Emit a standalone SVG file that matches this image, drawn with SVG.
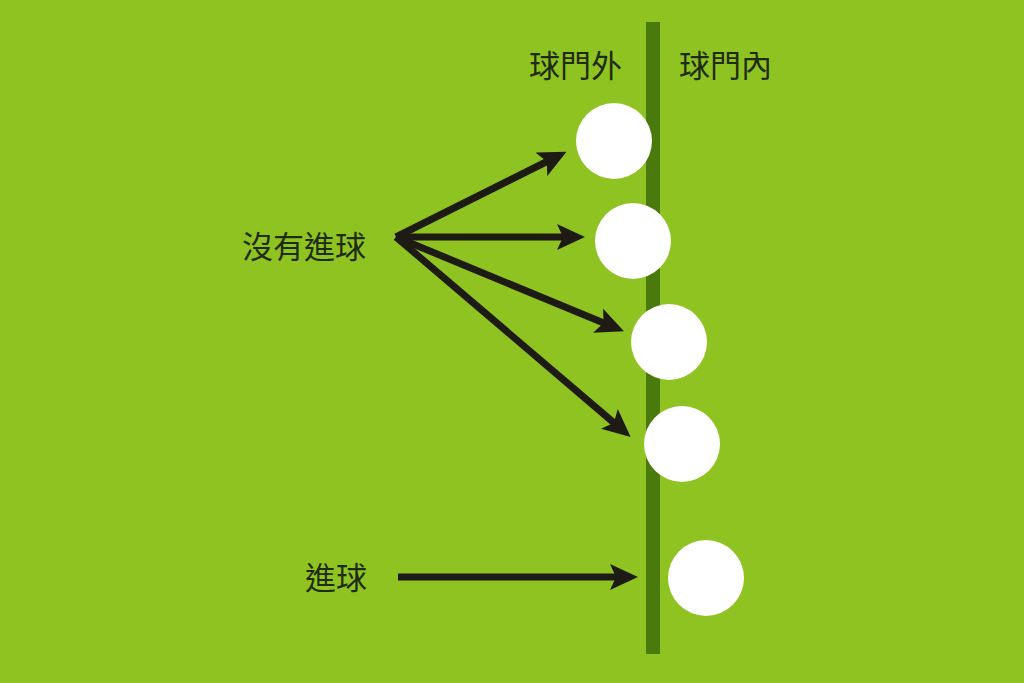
<svg xmlns="http://www.w3.org/2000/svg" width="1024" height="683" viewBox="0 0 1024 683">
<style>
.t{font-family:"Noto Sans CJK TC","Noto Sans CJK SC",sans-serif;font-size:31px;font-weight:400;fill:#1f2b12}
.ball{fill:#ffffff}
.arr{stroke:#1e1a14;stroke-width:7;fill:none;marker-end:url(#ah)}
</style>
<defs>
<marker id="ah" markerUnits="userSpaceOnUse" markerWidth="28" markerHeight="26" refX="14" refY="13" orient="auto" viewBox="0 0 28 26">
<path d="M0,0 L28,13 L0,26 L6,13 Z" fill="#1e1a14"/>
</marker>
</defs>
<rect width="1024" height="683" fill="#8fc322"/>
<rect id="goal-line" x="646" y="22" width="14" height="632" fill="#4a7a0c"/>
<g id="label-outside"><text class="t" x="529" y="77">球門外</text></g>
<g id="label-inside"><text class="t" x="679" y="77">球門內</text></g>
<g id="label-nogoal"><text class="t" x="242" y="258">沒有進球</text></g>
<g id="label-goal"><text class="t" x="305" y="589">進球</text></g>
<g id="ball1"><circle class="ball" cx="614" cy="141" r="38"/></g>
<g id="ball2"><circle class="ball" cx="633" cy="241" r="38"/></g>
<g id="ball3"><circle class="ball" cx="669" cy="342" r="38"/></g>
<g id="ball4"><circle class="ball" cx="682" cy="444" r="38"/></g>
<g id="ball5"><circle class="ball" cx="706" cy="578" r="38"/></g>
<g id="connectors">
<line class="arr" x1="396" y1="237" x2="554" y2="158"/>
<line class="arr" x1="396" y1="237" x2="571" y2="237"/>
<line class="arr" x1="396" y1="237" x2="611" y2="326"/>
<line class="arr" x1="396" y1="237" x2="620" y2="428"/>
<line class="arr" x1="398" y1="577" x2="624" y2="577"/>
</g>
</svg>
